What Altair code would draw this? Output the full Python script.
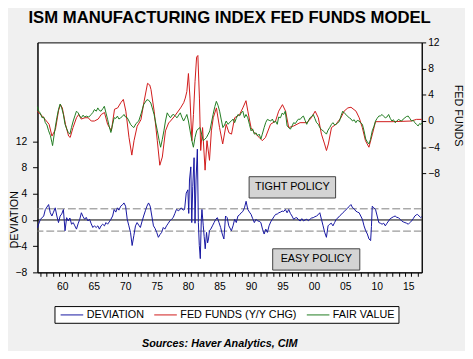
import altair as alt
import pandas as pd

# ---------------- data ----------------
FAIR_YEAR = [1956.05, 1956.26, 1956.5, 1956.78, 1957.05, 1957.30, 1957.55, 1957.82, 1958.1, 1958.34, 1958.45, 1958.60, 1958.87, 1959.13, 1959.4, 1959.65, 1959.9, 1960.17, 1960.43, 1960.7, 1960.95, 1961.21, 1961.45, 1961.73, 1962.0, 1962.25, 1962.51, 1962.8, 1963.03, 1963.3, 1963.55, 1963.81, 1964.2, 1964.59, 1964.85, 1965.11, 1965.4, 1965.64, 1965.9, 1966.16, 1966.45, 1966.68, 1966.95, 1967.20, 1967.45, 1967.72, 1968.0, 1968.24, 1968.5, 1968.76, 1969.0, 1969.28, 1969.55, 1969.80, 1970.06, 1970.32, 1970.6, 1970.84, 1971.1, 1971.37, 1971.7, 1972.15, 1972.55, 1972.93, 1973.2, 1973.45, 1973.7, 1974.07, 1974.3, 1974.59, 1974.85, 1975.11, 1975.4, 1975.63, 1975.9, 1976.15, 1976.4, 1976.68, 1976.95, 1977.20, 1977.45, 1977.72, 1978.0, 1978.24, 1978.5, 1978.76, 1979.0, 1979.28, 1979.55, 1979.80, 1980.05, 1980.32, 1980.6, 1980.84, 1981.1, 1981.36, 1981.6, 1981.88, 1982.15, 1982.40, 1982.65, 1982.93, 1983.2, 1983.45, 1983.7, 1983.97, 1984.25, 1984.49, 1984.75, 1985.01, 1985.25, 1985.53, 1985.8, 1986.05, 1986.36, 1986.6, 1986.88, 1987.15, 1987.40, 1987.65, 1987.92, 1988.2, 1988.44, 1988.7, 1988.96, 1989.2, 1989.49, 1989.75, 1990.01, 1990.25, 1990.53, 1990.8, 1991.05, 1991.3, 1991.57, 1991.8, 1992.09, 1992.35, 1992.61, 1992.9, 1993.13, 1993.4, 1993.65, 1993.9, 1994.17, 1994.4, 1994.69, 1994.95, 1995.21, 1995.45, 1995.74, 1996.0, 1996.26, 1996.5, 1996.78, 1997.05, 1997.30, 1997.55, 1997.82, 1998.1, 1998.34, 1998.6, 1998.86, 1999.1, 1999.38, 1999.65, 1999.90, 2000.15, 2000.42, 2000.7, 2000.94, 2001.2, 2001.46, 2001.7, 2001.99, 2002.25, 2002.51, 2002.8, 2003.03, 2003.3, 2003.55, 2003.8, 2004.07, 2004.35, 2004.59, 2004.85, 2005.11, 2005.35, 2005.63, 2005.9, 2006.15, 2006.4, 2006.67, 2006.9, 2007.19, 2007.45, 2007.71, 2007.97, 2008.24, 2008.5, 2008.76, 2009.0, 2009.28, 2009.55, 2009.80, 2010.05, 2010.32, 2010.6, 2010.84, 2011.1, 2011.36, 2011.6, 2011.88, 2012.15, 2012.40, 2012.65, 2012.92, 2013.2, 2013.44, 2013.7, 2013.96, 2014.2, 2014.48, 2014.75, 2015.00, 2015.25, 2015.53, 2015.8, 2016.05, 2016.3, 2016.57, 2016.8, 2017.0, 2017.15]
FAIR_VAL = [2.2, 1.5, 1.2, 0.5, 0.6, -0.25, -0.6, -1.5, -2.2, -3.25, -3.75, -2.75, -1.0, 0.5, 1.8, 2.6, 2.0, 1.0, -0.5, -1.2, -1.75, -2.0, -1.0, 0.0, 0.8, 1.5, 1.25, 0.7, 0.5, 0.9, 0.6, 0.75, 0.6, 1.0, 1.3, 1.75, 1.5, 2.0, 1.6, 1.5, 1.9, 2.25, 1.2, 0.25, -0.8, -1.75, -0.5, 0.5, 0.4, 0.75, 0.3, 0.5, 0.7, 1.0, 0.6, 0.5, 0.0, -0.5, -0.8, -1.0, -0.4, 0.0, 1.2, 2.5, 2.9, 3.25, 3.2, 2.75, 2.0, 1.0, -0.3, -1.5, -3.0, -4.0, -2.8, -1.5, 0.0, 1.25, 0.8, 0.5, 0.9, 1.0, 0.7, 0.5, 0.9, 1.25, 0.6, 0.0, 0.5, 1.0, 0.0, -1.5, -3.0, -4.0, -2.5, -1.5, -1.2, -1.0, -2.0, -3.0, -2.8, -2.5, -2.0, -1.5, -0.3, 1.0, 2.2, 3.0, 2.4, 1.5, 0.3, -1.0, -0.6, 0.0, -0.5, -0.2, 0.0, 0.3, -0.25, 0.4, 1.0, 0.8, 1.25, 1.5, 0.5, 1.0, 0.5, -0.5, -1.5, -1.2, -2.0, -1.8, -2.25, -2.0, -2.75, -2.0, -1.0, -0.2, 0.25, 0.1, 0.0, 0.3, -0.25, 0.0, -0.5, 0.6, 0.5, 1.2, 1.0, 1.5, -0.75, -1.0, -1.25, -0.8, -0.25, -0.4, 0.0, 0.3, 0.25, 0.6, 0.75, 0.1, -0.5, 0.0, 0.5, 0.7, 1.0, 0.4, -0.25, -0.5, -1.0, -1.3, -1.5, -1.7, -2.0, -1.4, -1.0, -0.5, -0.25, -0.6, -0.5, -0.3, 0.0, 0.9, 1.5, 1.2, 1.0, 0.7, 0.5, 0.3, 0.0, 0.2, -0.25, 0.1, 0.0, -0.3, -0.5, -1.5, -2.75, -3.2, -3.5, -2.8, -1.5, -0.8, 0.0, 0.4, 0.75, 0.8, 1.0, 0.7, 0.5, 0.6, 1.0, 0.4, 0.0, 0.2, -0.25, 0.0, 0.25, 0.1, 0.0, 0.3, 0.5, 0.7, 0.75, 0.4, 0.0, 0.1, -0.25, -0.5, -0.75, -0.4, -0.5, -0.3]

FED_YEAR = [1956.05, 1956.4, 1956.8, 1957.3, 1957.9, 1958.35, 1958.9, 1959.4, 1959.7, 1960.0, 1960.5, 1961.0, 1961.25, 1961.7, 1962.25, 1962.6, 1963.0, 1963.6, 1964.1, 1964.6, 1965.1, 1965.7, 1966.2, 1966.7, 1967.2, 1967.8, 1968.3, 1968.8, 1969.3, 1969.7, 1970.1, 1970.6, 1971.05, 1971.4, 1971.9, 1972.5, 1973.0, 1973.55, 1973.9, 1974.1, 1974.6, 1975.1, 1975.5, 1975.9, 1976.4, 1976.9, 1977.2, 1977.9, 1978.8, 1979.3, 1979.55, 1979.8, 1980.05, 1980.3, 1980.6, 1980.85, 1981.1, 1981.35, 1981.55, 1981.8, 1982.0, 1982.3, 1982.7, 1983.0, 1983.4, 1983.7, 1984.0, 1984.5, 1985.0, 1985.5, 1986.05, 1986.5, 1986.9, 1987.4, 1988.2, 1988.7, 1989.2, 1989.5, 1990.0, 1990.5, 1991.3, 1991.8, 1992.3, 1993.1, 1993.9, 1994.4, 1995.0, 1995.5, 1996.0, 1996.8, 1997.8, 1998.9, 1999.6, 2000.2, 2000.7, 2001.2, 2001.7, 2002.0, 2002.3, 2002.8, 2003.5, 2004.3, 2004.8, 2005.4, 2005.9, 2006.7, 2007.2, 2007.7, 2008.2, 2008.75, 2009.3, 2009.8, 2012.4, 2015.5, 2016.3, 2017.15]
FED_VAL = [1.5, 1.1, 0.8, 0.2, -0.5, -2.3, -1.3, 1.6, 2.5, 2.0, -0.5, -2.3, -2.5, -1.0, 0.5, 1.0, 0.3, 0.5, 0.5, 0.0, 0.0, 0.3, 1.0, 1.3, -0.5, -1.5, 1.8, 2.0, 2.8, 3.3, 1.5, -2.5, -5.2, -3.0, -0.8, 0.2, 3.0, 5.75, 5.5, 4.8, 1.5, -3.0, -6.75, -5.5, -1.5, -0.3, 0.0, 0.8, 2.0, 2.8, 3.5, 4.5, 7.25, 3.5, -3.0, 1.0, 6.0, 9.75, 10.0, 3.5, -4.5, -1.0, -7.5, -3.0, -6.0, -1.5, 0.5, 2.0, -1.0, -3.5, -0.5, -1.8, -2.0, 0.5, 1.0, 2.0, 3.1, 1.5, -1.0, -1.75, -2.5, -3.0, -2.5, -0.5, 0.0, 1.5, 2.5, 1.5, -1.0, -0.75, -0.25, -0.25, 0.5, 1.5, 0.5, -2.0, -3.5, -4.5, -3.5, -1.0, -0.5, 0.5, 1.5, 2.0, 2.1, 1.5, 0.5, -1.0, -3.0, -4.0, -2.0, -0.1, -0.1, 0.0, 0.25, 0.25]

DEV_YEAR = [1956.05, 1956.25, 1956.52, 1957.04, 1957.30, 1957.82, 1958.08, 1958.34, 1958.6, 1958.87, 1959.13, 1959.39, 1959.65, 1959.9, 1960.17, 1960.43, 1960.69, 1960.95, 1961.2, 1961.47, 1961.73, 1961.99, 1962.25, 1962.5, 1962.77, 1963.03, 1963.3, 1963.55, 1963.8, 1964.07, 1964.33, 1964.6, 1964.85, 1965.1, 1965.38, 1965.65, 1965.90, 1966.15, 1966.42, 1966.7, 1966.94, 1967.20, 1967.45, 1967.72, 1968.0, 1968.24, 1968.5, 1968.76, 1969.0, 1969.28, 1969.55, 1969.80, 1970.06, 1970.32, 1970.58, 1970.84, 1971.10, 1971.37, 1971.63, 1971.89, 1972.15, 1972.41, 1972.65, 1972.93, 1973.2, 1973.45, 1973.71, 1973.97, 1974.23, 1974.49, 1974.75, 1975.01, 1975.27, 1975.55, 1975.79, 1976.05, 1976.3, 1976.57, 1976.85, 1977.09, 1977.35, 1977.62, 1977.9, 1978.14, 1978.5, 1978.92, 1979.2, 1979.44, 1979.70, 1979.96, 1980.10, 1980.22, 1980.43, 1980.58, 1980.74, 1980.95, 1981.10, 1981.26, 1981.47, 1981.63, 1981.78, 1981.94, 1982.10, 1982.2, 1982.41, 1982.55, 1982.72, 1982.93, 1983.1, 1983.24, 1983.4, 1983.6, 1983.87, 1984.13, 1984.39, 1984.65, 1984.91, 1985.17, 1985.43, 1985.69, 1985.95, 1986.21, 1986.47, 1986.88, 1987.14, 1987.40, 1987.66, 1987.92, 1988.2, 1988.44, 1988.7, 1988.96, 1989.22, 1989.49, 1989.75, 1990.01, 1990.27, 1990.53, 1990.8, 1991.05, 1991.3, 1991.57, 1991.83, 1992.09, 1992.35, 1992.61, 1992.87, 1993.13, 1993.39, 1993.65, 1993.91, 1994.17, 1994.43, 1994.7, 1994.95, 1995.2, 1995.47, 1995.74, 1996.0, 1996.26, 1996.52, 1996.78, 1997.04, 1997.30, 1997.56, 1997.82, 1998.08, 1998.34, 1998.6, 1998.86, 1999.12, 1999.38, 1999.64, 1999.90, 2000.16, 2000.42, 2000.68, 2000.94, 2001.20, 2001.46, 2001.72, 2001.99, 2002.25, 2002.51, 2002.77, 2003.03, 2003.29, 2003.55, 2003.81, 2004.07, 2004.33, 2004.59, 2004.85, 2005.11, 2005.37, 2005.63, 2005.89, 2006.15, 2006.41, 2006.67, 2006.93, 2007.19, 2007.45, 2007.71, 2007.97, 2008.24, 2008.50, 2008.76, 2009.02, 2009.15, 2009.28, 2009.54, 2009.80, 2010.06, 2010.32, 2010.58, 2010.84, 2011.1, 2011.36, 2011.62, 2011.88, 2012.14, 2012.40, 2012.66, 2012.92, 2013.18, 2013.44, 2013.70, 2013.96, 2014.22, 2014.48, 2014.75, 2015.01, 2015.27, 2015.53, 2015.79, 2016.05, 2016.31, 2016.47, 2016.73, 2016.99, 2017.15]
DEV_VAL = [-1.2, -0.6, 0.1, 0.6, 1.6, 2.35, 1.1, 0.6, 1.2, 1.85, 0.6, -0.4, 0.6, 0.9, 1.6, -1.65, 0.35, -0.15, 0.3, -0.65, -0.4, -0.9, -1.4, -0.6, 0.1, 1.1, 0.5, 0.1, 0.4, -0.15, 0.1, -0.6, -1.15, -0.9, -1.15, -0.9, -1.4, -0.9, -0.65, -0.9, -0.4, -0.65, -0.3, 0.1, 0.6, 1.6, 1.2, 1.85, 1.5, 2.1, 2.3, 2.6, 2.1, 0.1, -0.9, -1.9, -3.9, -2.4, -0.9, -0.4, -0.8, -1.15, -0.3, 0.6, 1.4, 2.1, 2.6, 2.1, 0.6, -0.9, -1.3, -1.9, -2.65, -2.2, -1.9, -1.15, -1.4, -0.9, -0.5, -0.15, 0.1, 0.35, 1.0, 1.6, 1.4, 1.85, 1.5, 1.6, 4.1, 4.6, 1.0, 6.1, 8.1, -0.4, 5.1, 9.5, -0.5, 6.1, 10.8, -0.4, -3.9, -5.9, 0.1, 1.6, -0.9, -2.5, -4.4, -1.9, -3.5, -2.9, -1.6, -1.4, -0.9, -0.4, 0.1, 0.35, -0.4, -1.15, -2.15, -2.9, 0.6, 0.35, -0.9, -1.65, -0.9, 0.1, -0.4, 0.6, 0.8, 1.1, 1.3, 1.85, 2.85, 1.6, 1.2, 0.85, 0.2, -0.4, 0.1, -0.15, -0.2, -0.4, -1.4, -2.15, -1.4, -1.9, -0.9, -0.3, 0.1, 0.5, 0.85, 0.9, 1.1, 1.2, 1.35, 1.3, 1.6, 1.1, 1.6, 1.0, 0.6, 0.1, 0.3, 0.35, 0.0, -0.15, 0.2, -0.15, 0.0, 0.1, -0.1, 0.1, 0.3, 0.35, 0.5, 0.6, 0.8, 1.1, 0.1, -0.9, -1.9, -2.65, -0.9, -0.65, -0.5, -0.9, -0.4, 0.1, 0.3, 0.6, 0.8, 1.1, 1.3, 1.6, 1.8, 2.1, 2.35, 1.85, 1.7, 1.35, 1.2, 1.1, 0.6, 0.1, -0.9, -1.65, -2.15, -2.9, -3.15, -1.0, 2.1, 1.85, 1.6, 0.6, -0.4, -0.5, -0.65, -0.5, -0.9, -0.5, -0.15, 0.2, 0.35, 0.5, 0.6, 0.4, 0.35, 0.1, -0.15, -0.3, -0.4, -0.5, -0.65, -0.4, -0.15, 0.2, 0.6, 0.8, 0.85, 0.6, 0.35, 0.5]

SERIES = ["DEVIATION", "FED FUNDS (Y/Y CHG)", "FAIR VALUE"]
COLORS = ["#1414a0", "#d01818", "#1f7a1f"]

LABEL_YEARS = [1960, 1965, 1970, 1975, 1980, 1985, 1990, 1995, 2000, 2005, 2010, 2015]
MINOR_TICKS = [y + 0.5 for y in range(1956, 2017)]
Y_TICKS = [-8, -4, 0, 4, 8, 12]
BANDS = [1.7, -1.7]

BOX_LABEL = ["TIGHT POLICY", "EASY POLICY"]
BOX_X0 = [1989.7, 1993.45]
BOX_X1 = [2003.45, 2007.3]
BOX_Y0 = [3.35, -7.65]
BOX_Y1 = [6.6, -4.4]

TITLE = "ISM MANUFACTURING INDEX FED FUNDS MODEL"
SOURCE = "Sources:  Haver Analytics, CIM"

FONT = "Liberation Sans"

# ---------------- tables ----------------
dev = pd.DataFrame({"year": DEV_YEAR, "value": DEV_VAL, "series": SERIES[0]})
fed = pd.DataFrame({"year": FED_YEAR, "value": FED_VAL, "series": SERIES[1]})
fair = pd.DataFrame({"year": FAIR_YEAR, "value": FAIR_VAL, "series": SERIES[2]})
boxes = pd.DataFrame({"label": BOX_LABEL, "x0": BOX_X0, "x1": BOX_X1, "y0": BOX_Y0, "y1": BOX_Y1})
boxes["xc"] = (boxes["x0"] + boxes["x1"]) / 2
boxes["yc"] = (boxes["y0"] + boxes["y1"]) / 2
bands = pd.DataFrame({"v": BANDS})
zero = pd.DataFrame({"v": [0]})

# ---------------- scales / axes ----------------
xscale = alt.Scale(domain=[1956.05, 2017.15], nice=False, zero=False)
yleft = alt.Scale(domain=[-8, 27.1], nice=False, zero=False)
yright = alt.Scale(domain=[-23.1, 12], nice=False, zero=False)

x_label_axis = alt.Axis(orient="bottom", values=LABEL_YEARS,
                        labelExpr="slice(format(datum.value, 'd'), 2)",
                        ticks=False, tickSize=0, labelPadding=9, grid=False, domain=True,
                        domainColor="black", labelFontSize=10.5, title=None, labelFlush=False)
x_tick_axis = alt.Axis(orient="bottom", values=MINOR_TICKS, labels=False, ticks=True, tickSize=4,
                       tickColor="black", domain=False, grid=False, title=SOURCE, titleFontSize=11,
                       titleFontStyle="italic", titleFontWeight="bold", titleX=185, titleY=75,
                       titleAlign="center", titleBaseline="alphabetic", titleFont=FONT)
left_axis = alt.Axis(orient="left", values=Y_TICKS, tickSize=5, labelPadding=6, grid=False,
                     labelFontSize=10.5, title="DEVIATION", titleAngle=270, titleX=-20, titleY=180,
                     titleAlign="center", titleBaseline="alphabetic", titleFontSize=11,
                     titleFontWeight="normal", domainColor="black", tickColor="black")
right_axis = alt.Axis(orient="right", values=Y_TICKS, tickSize=4, labelPadding=2, grid=False,
                      labelFontSize=10.5, title="FED FUNDS", titleAngle=90, titleX=33, titleY=74,
                      titleAlign="center", titleBaseline="alphabetic", titleFontSize=11,
                      titleFontWeight="normal", domainColor="black", tickColor="black")

color = alt.Color("series:N", scale=alt.Scale(domain=SERIES, range=COLORS),
                  legend=alt.Legend(orient="none", legendX=17.3, legendY=268.3,
                                    direction="horizontal", columns=3, title=None,
                                    symbolType="M-0.5,0H3.68", symbolSize=121,
                                    symbolStrokeWidth=1, labelFont=FONT, labelFontSize=11,
                                    labelColor="black", labelOffset=17.75, columnPadding=6.25,
                                    padding=3, strokeColor="black", fillColor="white"))

# ---------------- layer A (deviation, left axis) ----------------
band_rules = alt.Chart(bands).mark_rule(color="#808080", strokeDash=[8, 3], strokeWidth=1).encode(
    y=alt.Y("v:Q", scale=yleft, axis=left_axis))
zero_rule = alt.Chart(zero).mark_rule(color="black", strokeWidth=1).encode(
    y=alt.Y("v:Q", scale=yleft, axis=left_axis))
dev_line = alt.Chart(dev).mark_line(strokeWidth=1).encode(
    x=alt.X("year:Q", scale=xscale, axis=x_label_axis),
    y=alt.Y("value:Q", scale=yleft, axis=left_axis),
    color=color)
box_rect = alt.Chart(boxes).mark_rect(fill="#d4d4d4", stroke="#404040", strokeWidth=1).encode(
    x=alt.X("x0:Q", scale=xscale, axis=x_label_axis), x2="x1:Q",
    y=alt.Y("y0:Q", scale=yleft, axis=left_axis), y2="y1:Q")
box_text = alt.Chart(boxes).mark_text(font=FONT, fontSize=11, color="black", baseline="middle").encode(
    x=alt.X("xc:Q", scale=xscale, axis=x_label_axis),
    y=alt.Y("yc:Q", scale=yleft, axis=left_axis),
    text="label:N")

layer_a = alt.layer(band_rules, zero_rule, dev_line, box_rect, box_text)

# ---------------- layer B (fed funds / fair value, right axis) ----------------
fed_line = alt.Chart(fed).mark_line(strokeWidth=1).encode(
    x=alt.X("year:Q", scale=xscale, axis=x_tick_axis),
    y=alt.Y("value:Q", scale=yright, axis=right_axis),
    color=color)
fair_line = alt.Chart(fair).mark_line(strokeWidth=1).encode(
    x=alt.X("year:Q", scale=xscale, axis=x_tick_axis),
    y=alt.Y("value:Q", scale=yright, axis=right_axis),
    color=color)
layer_b = alt.layer(fed_line, fair_line)

chart = alt.layer(layer_a, layer_b).resolve_scale(y="independent").resolve_axis(x="independent").properties(
    width=391, height=234,
    background="#f0f0f0",
    padding={"left": 30, "top": 32, "right": 44, "bottom": 77},
    autosize=alt.AutoSizeParams(type="none"),
    title=alt.Title(TITLE, font=FONT, fontSize=17, fontWeight="bold", color="black",
                    anchor="middle", frame="group", baseline="alphabetic", offset=-2),
).configure_view(fill="white", stroke="black", strokeWidth=1).configure_axis(
    labelFont=FONT, titleFont=FONT, labelColor="black", titleColor="black"
)

chart.save("out.html", embed_options={"renderer": "svg", "actions": False})
